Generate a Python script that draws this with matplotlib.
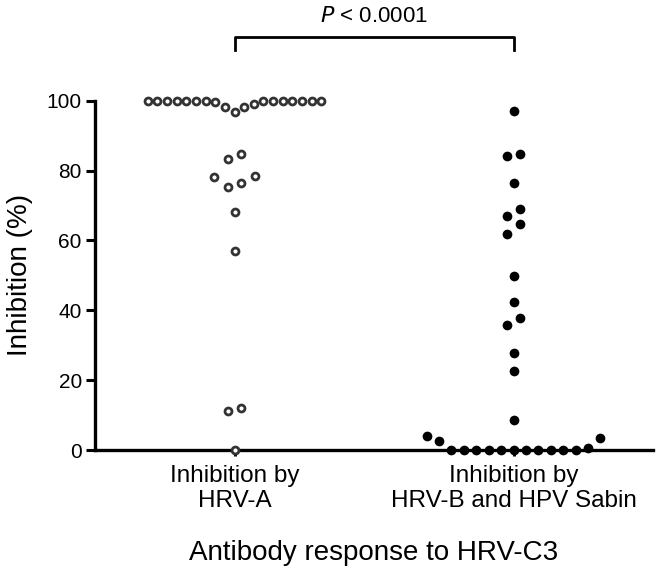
import numpy as np
import matplotlib
matplotlib.use("Agg")
import matplotlib.pyplot as plt

plt.rcParams['font.family'] = ['Liberation Sans', 'DejaVu Sans']

categories = ["Inhibition by\nHRV-A", "Inhibition by\nHRV-B and HPV Sabin"]
hrv_a = [100, 100, 100, 100, 100, 100, 100, 100, 100, 100, 100, 100, 100, 100,
         99.5, 98.1, 96.9, 98.1, 99.0,
         84.8, 83.3, 78.1, 75.4, 76.4, 78.3, 68.1, 57.1, 12.0, 11.2, 0]
hrv_b = [97.1, 84.2, 84.7, 76.3, 68.9, 66.9, 64.6, 61.7, 49.8, 42.4, 37.8, 35.7,
         27.9, 22.5, 8.6, 4.0, 2.7, 3.3, 0.5,
         0, 0, 0, 0, 0, 0, 0, 0, 0, 0, 0]
p_text = "$\\it{P}$ < 0.0001"


def scatter_offsets(values, row_h=4.2, slot=0.048, max_w=0.623):
    # Prism-style column scatter: bin points into rows, spread each row around the centre
    values = np.asarray(values, dtype=float)
    order = np.argsort(values, kind="stable")
    rows, cur = [], []
    for i in order:
        if cur and values[i] - values[cur[0]] > row_h:
            rows.append(cur)
            cur = []
        cur.append(i)
    rows.append(cur)
    offsets = np.zeros(len(values))
    for row in rows:
        n = len(row)
        step = slot if n < 2 else min(slot, max_w / (n - 1))
        if n % 2:
            slots = [0]
            k = 1
            while len(slots) < n:
                slots += [k, -k]
                k += 1
        else:
            slots = []
            k = 0.5
            while len(slots) < n:
                slots += [-k, k]
                k += 1
        for idx, s in zip(row, slots[:n]):
            offsets[idx] = s * step
    return offsets


fig = plt.figure(figsize=(6.62, 5.81), dpi=100)
ax = fig.add_axes([95 / 662, 1 - 450 / 581, (653 - 95) / 662, (450 - 100.7) / 581])

xa = 0 + scatter_offsets(hrv_a)
xb = 1 + scatter_offsets(hrv_b)
ax.plot(xa, hrv_a, "o", ms=5.0, mfc="white", mec="#333333", mew=2.0,
        clip_on=False, zorder=5)
ax.plot(xb, hrv_b, "o", ms=7.0, mfc="black", mec="black", mew=0,
        clip_on=False, zorder=5)

ax.set_xlim(-0.5, 1.5)
ax.set_ylim(0, 100)
ax.set_yticks([0, 20, 40, 60, 80, 100])
ax.set_xticks([0, 1])
ax.set_xticklabels(categories, fontsize=17.5, linespacing=1.15)
ax.tick_params(axis="y", length=6.5, width=2.2, labelsize=15, pad=3)
ax.tick_params(axis="x", length=4, width=2.2, pad=7)
for side in ["top", "right"]:
    ax.spines[side].set_visible(False)
for side in ["left", "bottom"]:
    ax.spines[side].set_linewidth(2.4)

ax.set_ylabel("Inhibition (%)", fontsize=20, labelpad=10)
ax.set_xlabel("Antibody response to HRV-C3", fontsize=20, labelpad=20)

# significance bracket
ax.plot([0, 0, 1, 1], [114.5, 118.3, 118.3, 114.5], color="black", lw=2,
        clip_on=False)
ax.text(0.5, 121, p_text, ha="center", va="bottom", fontsize=16)

fig.savefig("out.png", dpi=100)
